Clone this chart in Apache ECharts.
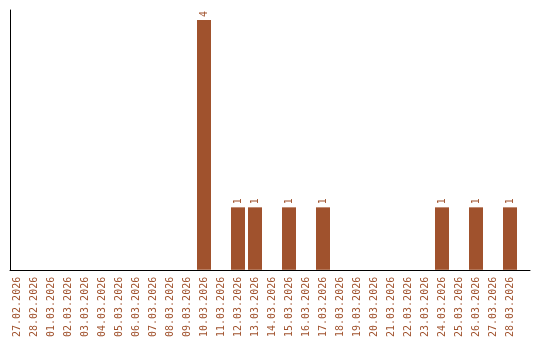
<!DOCTYPE html>
<html><head><meta charset="utf-8">
<script src="https://cdn.jsdelivr.net/npm/echarts@6/dist/echarts.min.js"></script>
<style>html,body{margin:0;padding:0;background:#fff}#c{width:540px;height:340px}</style>
</head><body><div id="c"></div>
<script>
var categories = ['27.02.2026','28.02.2026','01.03.2026','02.03.2026','03.03.2026','04.03.2026','05.03.2026','06.03.2026','07.03.2026','08.03.2026','09.03.2026','10.03.2026','11.03.2026','12.03.2026','13.03.2026','14.03.2026','15.03.2026','16.03.2026','17.03.2026','18.03.2026','19.03.2026','20.03.2026','21.03.2026','22.03.2026','23.03.2026','24.03.2026','25.03.2026','26.03.2026','27.03.2026','28.03.2026'];
var values = [0,0,0,0,0,0,0,0,0,0,0,4,0,1,1,0,1,0,1,0,0,0,0,0,0,1,0,1,0,1];
var color = '#a0522d';
var chart = echarts.init(document.getElementById('c'), null, {renderer:'canvas'});
chart.setOption({
  animation:false,
  grid:[
    {left:8.5, width:510, top:10, bottom:70},
    {left:10, right:10, top:10, bottom:70}
  ],
  xAxis:[
    {type:'category', gridIndex:0, data:categories,
     axisLine:{show:false}, axisTick:{show:false},
     axisLabel:{rotate:90, color:color, fontFamily:'DejaVu Sans Mono', fontSize:10, margin:7, interval:0}},
    {type:'value', gridIndex:1, min:0, max:1,
     axisLine:{show:true, lineStyle:{color:'#000', width:1}}, axisTick:{show:false}, axisLabel:{show:false}, splitLine:{show:false}}
  ],
  yAxis:[
    {type:'value', gridIndex:0, min:0, max:4.16, axisLine:{show:false}, axisTick:{show:false}, axisLabel:{show:false}, splitLine:{show:false}},
    {type:'value', gridIndex:1, min:0, max:1,
     axisLine:{show:true, lineStyle:{color:'#000', width:1}}, axisTick:{show:false}, axisLabel:{show:false}, splitLine:{show:false}}
  ],
  series:[{
    type:'bar', xAxisIndex:0, yAxisIndex:0, barWidth:14,
    data: values.map(function(v){return v===0?null:v;}),
    itemStyle:{color:color},
    label:{show:true, position:'top', rotate:90, align:'left', verticalAlign:'middle', distance:3,
      color:color, fontFamily:'DejaVu Sans Mono', fontSize:10}
  }]
});
</script></body></html>
